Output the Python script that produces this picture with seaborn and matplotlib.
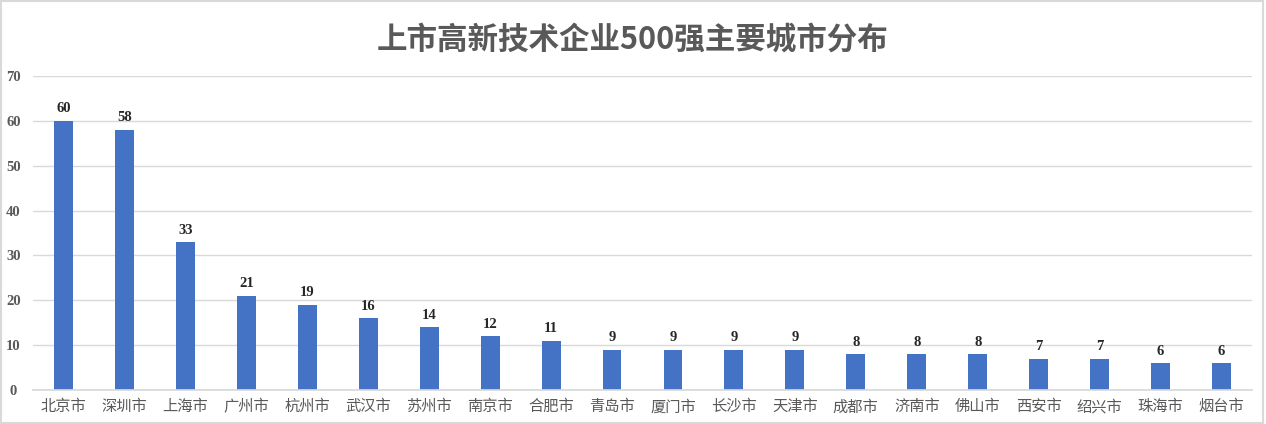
import matplotlib
matplotlib.use("Agg")
import matplotlib.pyplot as plt
import pandas as pd
import seaborn as sns
from matplotlib.patches import Rectangle

cities = ['北京市', '深圳市', '上海市', '广州市', '杭州市', '武汉市', '苏州市', '南京市', '合肥市', '青岛市',
          '厦门市', '长沙市', '天津市', '成都市', '济南市', '佛山市', '西安市', '绍兴市', '珠海市', '烟台市']
counts = [60, 58, 33, 21, 19, 16, 14, 12, 11, 9, 9, 9, 9, 8, 8, 8, 7, 7, 6, 6]
y_ticks = [0, 10, 20, 30, 40, 50, 60, 70]
title = '上市高新技术企业500强主要城市分布'

df = pd.DataFrame({'city': cities, 'count': counts})

sns.set_theme(style='white')
plt.rcParams['font.family'] = ['Noto Sans CJK SC', 'DejaVu Sans']

fig = plt.figure(figsize=(12.66, 4.24), dpi=100)
ax = fig.add_axes([33 / 1266, 1 - 390 / 424, (1252 - 33) / 1266, (390 - 76) / 424])

sns.barplot(data=df, x='city', y='count', color='#4472C4', saturation=1, width=0.31, linewidth=0, ax=ax)

ax.set_ylim(0, 70)
ax.set_xlim(-0.5, len(cities) - 0.5)
ax.set_yticks(y_ticks)
ax.yaxis.grid(True, color='#d9d9d9', linewidth=1)
ax.set_axisbelow(True)
for s in ['top', 'right', 'left']:
    ax.spines[s].set_visible(False)
ax.spines['bottom'].set_color('#d9d9d9')
ax.tick_params(axis='both', length=0)
ax.tick_params(axis='x', pad=6)
ax.tick_params(axis='y', pad=14)
ax.set_xlabel('')
ax.set_ylabel('')

for lbl in ax.get_xticklabels():
    lbl.set_fontsize(11)
    lbl.set_color('#595959')
for lbl in ax.get_yticklabels():
    lbl.set_fontfamily('Liberation Serif')
    lbl.set_fontweight('bold')
    lbl.set_fontsize(10.5)
    lbl.set_color('#595959')
    lbl.set_horizontalalignment('center')

for i, v in enumerate(counts):
    ax.text(i, v + 1.2, str(v), ha='center', va='bottom', fontsize=10.5, fontweight='bold',
            family='Liberation Serif', color='#262626')

fig.text(0.5, 1 - 40 / 424, title, ha='center', va='center', fontsize=22, fontweight='bold', color='#595959')

fig.patches.append(Rectangle((0.001, 0.002), 0.997, 0.995, transform=fig.transFigure, fill=False,
                             edgecolor='#d9d9d9', linewidth=1.5))

fig.savefig('out.png', dpi=100)
